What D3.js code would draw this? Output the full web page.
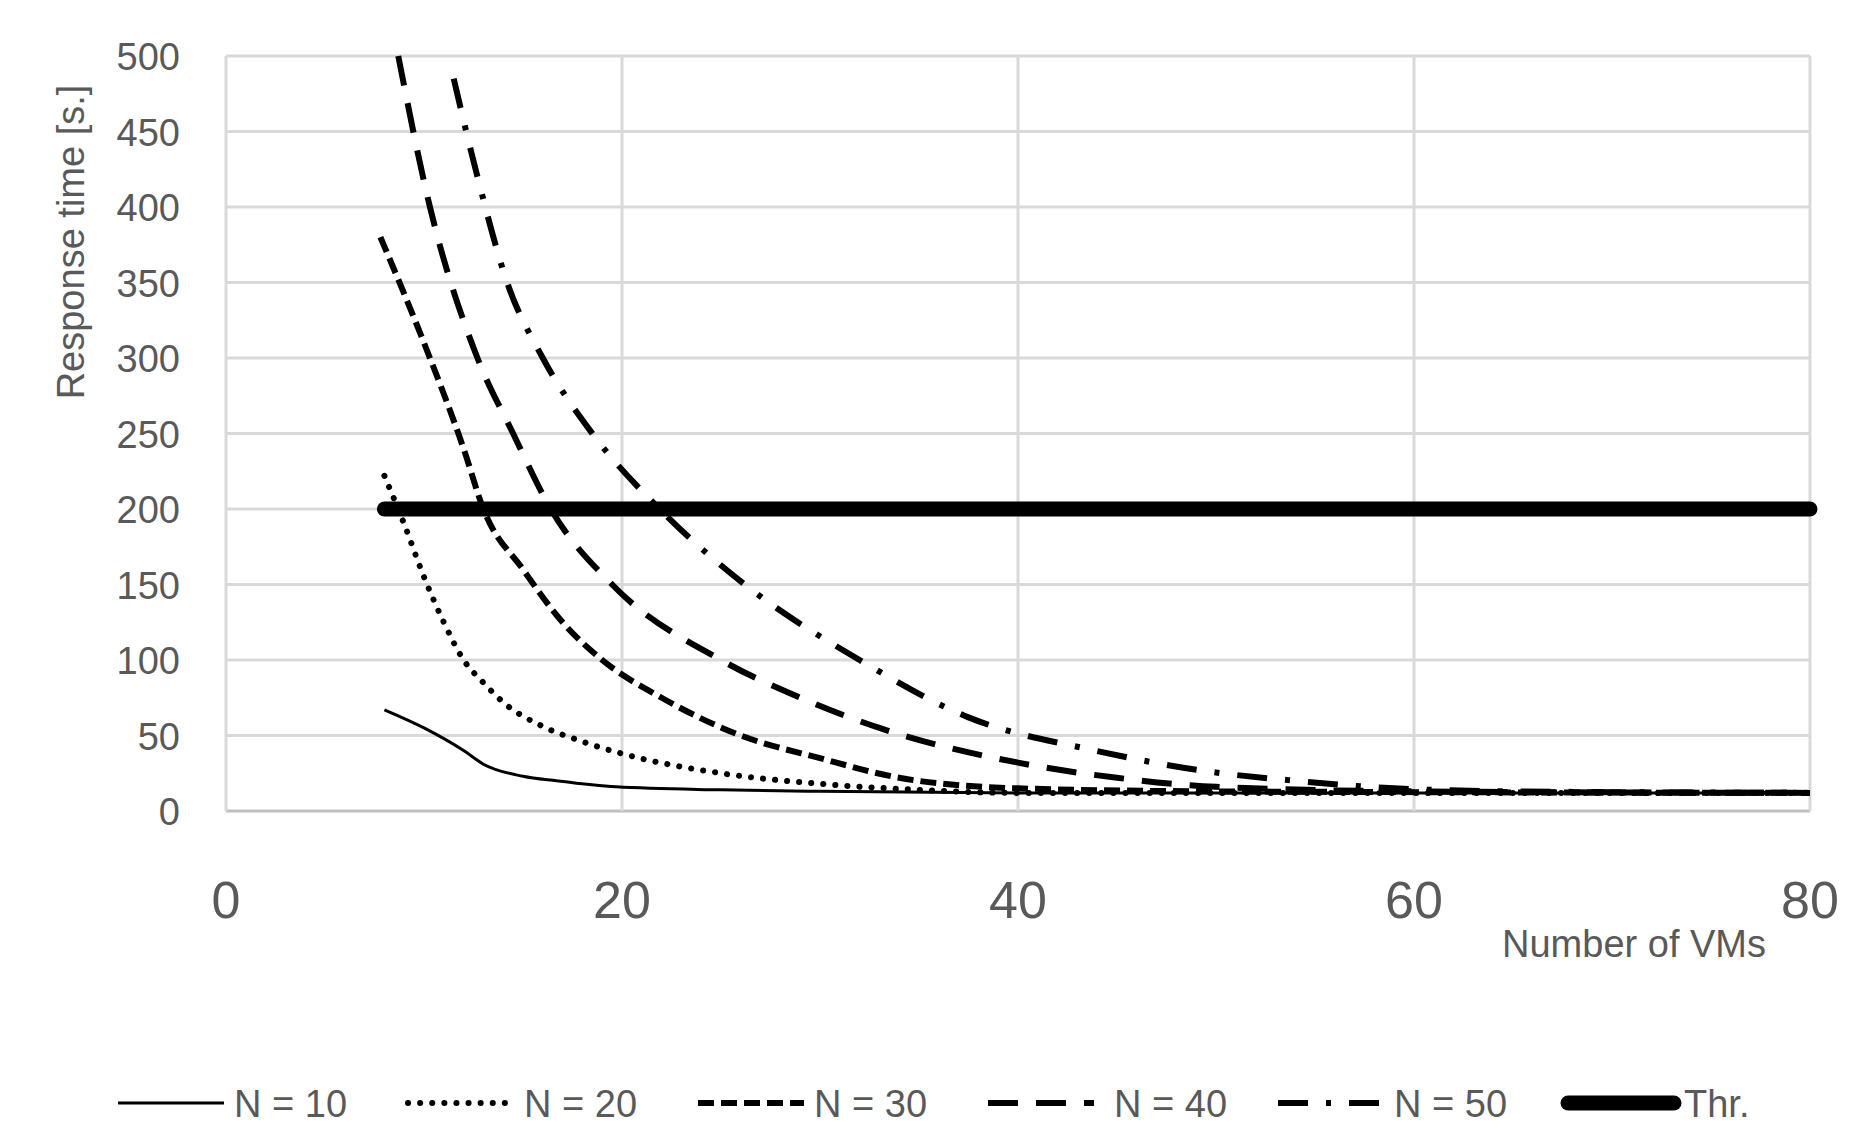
<!DOCTYPE html>
<html>
<head>
<meta charset="utf-8">
<script src="https://cdn.jsdelivr.net/npm/d3@7"></script>
<style>
  body { margin: 0; background: #fff; }
  text { font-family: "Liberation Sans Narrow", "Liberation Sans", sans-serif; fill: #595959; }
</style>
</head>
<body>
<svg id="chart" width="1875" height="1139"></svg>
<script>
// data: [number of VMs, response time]
var n10 = [[8, 67], [10, 55], [12, 40], [13, 31], [15, 23], [16.7, 20], [19.7, 16], [25, 14], [30, 13], [40, 12], [80, 12]];
var n20 = [[8, 222], [9, 190], [10, 155], [11, 125], [12, 100], [13, 85], [14, 72], [16, 56], [18, 46], [20, 38], [25, 25], [30, 18], [35, 14], [40, 12], [80, 12]];
var n30 = [[7.8, 380], [10, 310], [12, 240], [13, 200], [15, 160], [17, 125], [19, 100], [22, 75], [26, 50], [30, 35], [34, 22], [40, 15], [50, 13], [80, 12]];
var n40 = [[8.7, 500], [10.3, 400], [12.7, 300], [14.5, 250], [16.4, 200], [19.5, 150], [25, 100], [29, 75], [33, 55], [40, 32], [45, 22], [50, 16], [60, 13], [80, 12]];
var n50 = [[11.5, 485], [12.7, 420], [14.2, 350], [16, 300], [18.5, 250], [21.9, 200], [26.2, 150], [32, 100], [37.5, 62], [43.9, 40], [49.7, 26], [54, 20], [59, 15], [65, 13], [80, 12]];
var thr = [[8, 200], [80, 200]];

var seriesNames = ["N = 10", "N = 20", "N = 30", "N = 40", "N = 50", "Thr."];
var seriesData = [n10, n20, n30, n40, n50, thr];
var xTicks = [0, 20, 40, 60, 80];
var yTicks = [0, 50, 100, 150, 200, 250, 300, 350, 400, 450, 500];

// line styles per series
var styles = [
    { w: 3, dash: null, cap: "butt" },
    { w: 6, dash: "0.1 12", cap: "round" },
    { w: 6, dash: "16 7", cap: "butt" },
    { w: 6, dash: "30 18", cap: "butt" },
    { w: 6, dash: "30 18 5 18", cap: "butt" },
    { w: 15, dash: null, cap: "round" }
];

var svg = d3.select("#chart");
var pLeft = 226, pRight = 1810, pTop = 56, pBottom = 811;

var x = d3.scaleLinear().domain([0, 80]).range([pLeft, pRight]);
var y = d3.scaleLinear().domain([0, 500]).range([pBottom, pTop]);

// gridlines
svg.append("g")
    .selectAll("line")
    .data(yTicks)
    .enter().append("line")
    .attr("x1", pLeft).attr("x2", pRight)
    .attr("y1", d => y(d)).attr("y2", d => y(d))
    .attr("stroke", d => d == 0 ? "#bfbfbf" : "#d9d9d9")
    .attr("stroke-width", 3);

svg.append("g")
    .selectAll("line")
    .data(xTicks)
    .enter().append("line")
    .attr("x1", d => x(d)).attr("x2", d => x(d))
    .attr("y1", pTop).attr("y2", pBottom)
    .attr("stroke", "#d9d9d9")
    .attr("stroke-width", 3);

// tick labels
svg.append("g")
    .selectAll("text")
    .data(yTicks)
    .enter().append("text")
    .attr("x", pLeft - 46)
    .attr("y", d => y(d) + 14)
    .attr("text-anchor", "end")
    .style("font-size", "38px")
    .text(d => d);

svg.append("g")
    .selectAll("text")
    .data(xTicks)
    .enter().append("text")
    .attr("x", d => x(d))
    .attr("y", 918)
    .attr("text-anchor", "middle")
    .style("font-size", "52px")
    .text(d => d);

// axis titles
svg.append("text")
    .attr("x", 1766).attr("y", 957)
    .attr("text-anchor", "end")
    .style("font-size", "38px")
    .text("Number of VMs");

svg.append("text")
    .attr("transform", "translate(84,242) rotate(-90)")
    .attr("text-anchor", "middle")
    .style("font-size", "38px")
    .text("Response time [s.]");

// lines
var line = d3.line()
    .x(d => x(d[0]))
    .y(d => y(d[1]))
    .curve(d3.curveMonotoneX);

for (let i = 0; i < seriesData.length; i++) {
    svg.append("path")
        .attr("d", line(seriesData[i]))
        .attr("fill", "none")
        .attr("stroke", "#000")
        .attr("stroke-width", styles[i].w)
        .attr("stroke-dasharray", styles[i].dash)
        .attr("stroke-linecap", styles[i].cap);
}

// legend
var legend = svg.append("g");
for (let i = 0; i < seriesNames.length; i++) {
    var lx = 118 + i * 290;
    legend.append("line")
        .attr("x1", lx).attr("x2", lx + 106)
        .attr("y1", 1103).attr("y2", 1103)
        .attr("stroke", "#000")
        .attr("stroke-width", styles[i].w)
        .attr("stroke-dasharray", styles[i].dash)
        .attr("stroke-linecap", styles[i].cap);
    legend.append("text")
        .attr("x", lx + 116 + (i == 3 ? 10 : 0))
        .attr("y", 1117)
        .style("font-size", "38px")
        .text(seriesNames[i]);
}
</script>
</body>
</html>
